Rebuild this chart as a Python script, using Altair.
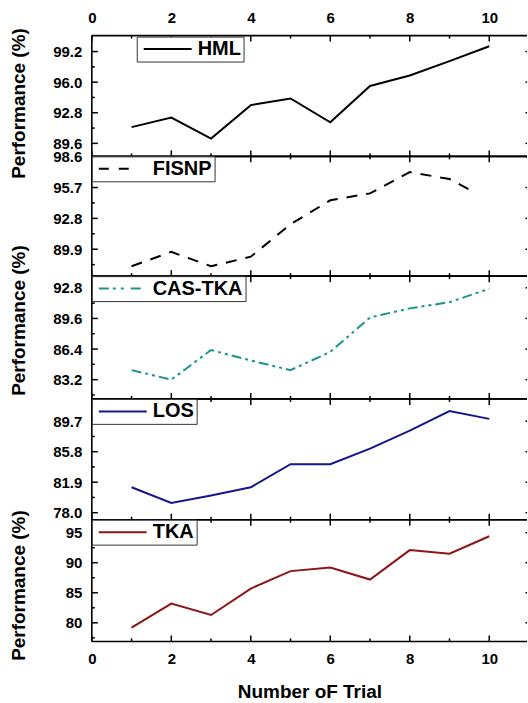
import altair as alt
import pandas as pd

# ---------------- data ----------------
trials = [1, 2, 3, 4, 5, 6, 7, 8, 9, 10]
fisnp_trials = [1, 2, 3, 4, 5, 6, 7, 8, 9, 9.6]

hml = [91.3, 92.3, 90.1, 93.6, 94.3, 91.8, 95.6, 96.7, 98.2, 99.75]
fisnp = [88.3, 89.65, 88.3, 89.2, 92.25, 94.5, 95.15, 97.15, 96.5, 95.3]
cas_tka = [84.2, 83.2, 86.3, 85.2, 84.2, 86.1, 89.7, 90.65, 91.3, 92.7]
los = [81.25, 79.25, 80.2, 81.25, 84.2, 84.2, 86.2, 88.5, 91.0, 90.0]
tka = [79.2, 83.2, 81.3, 85.7, 88.6, 89.2, 87.2, 92.1, 91.5, 94.4]

series_names = ["HML", "FISNP", "CAS-TKA", "LOS", "TKA"]

x_major = [0, 2, 4, 6, 8, 10]
x_minor = [1, 3, 5, 7, 9]

hml_ticks = [89.6, 92.8, 96.0, 99.2]
hml_minor = [91.2, 94.4, 97.6]
fisnp_ticks = [89.9, 92.8, 95.7, 98.6]
fisnp_minor = [88.45, 91.35, 94.25, 97.15]
cas_ticks = [83.2, 86.4, 89.6, 92.8]
cas_minor = [81.6, 84.8, 88.0, 91.2]
los_ticks = [78.0, 81.9, 85.8, 89.7]
los_minor = [79.95, 83.85, 87.75, 91.65]
tka_ticks = [80, 85, 90, 95]
tka_minor = [77.5, 82.5, 87.5, 92.5]

x_title = "Number oF Trial"
y_title = "Performance (%)"

# ---------------- styling / layout ----------------
FONT = "Liberation Sans"
W = 436
X_DOMAIN = [0, 10.95]

panel_specs = [
    dict(x=trials, y=hml, color="#000000", dash=None, legdash=None,
         domain=[88.24, 100.87], height=121, ticks=hml_ticks, minor=hml_minor,
         fmt=".1f", lx=45, ly=1, title_y=67.5, top=True, bottom=False),
    dict(x=fisnp_trials, y=fisnp, color="#000000", dash=[11, 9], legdash=[10, 10, 10, 40],
         domain=[87.37, 98.63], height=120, ticks=fisnp_ticks, minor=fisnp_minor,
         fmt=".1f", lx=0, ly=0, title_y=None, top=False, bottom=False),
    dict(x=trials, y=cas_tka, color="#1b928c", dash=[10, 4, 3, 4, 3, 4], legdash=[10, 4, 3, 5, 3, 7, 10, 20],
         domain=[81.19, 94.02], height=123, ticks=cas_ticks, minor=cas_minor,
         fmt=".1f", lx=0, ly=0, title_y=44, top=False, bottom=False),
    dict(x=trials, y=los, color="#15158e", dash=None, legdash=None,
         domain=[77.11, 92.55], height=121, ticks=los_ticks, minor=los_minor,
         fmt=".1f", lx=0, ly=0, title_y=None, top=False, bottom=False),
    dict(x=trials, y=tka, color="#8e1515", dash=None, legdash=None,
         domain=[76.9, 97.16], height=122, ticks=tka_ticks, minor=tka_minor,
         fmt="d", lx=0, ly=0, title_y=65.5, top=False, bottom=True),
]


def make_panel(name, s):
    H = s["height"]
    df = pd.DataFrame({"trial": s["x"], "perf": s["y"], "series": [name] * len(s["x"])})
    xscale = alt.Scale(domain=X_DOMAIN, nice=False, zero=False)
    yscale = alt.Scale(domain=s["domain"], nice=False, zero=False)

    lab = dict(labelFont=FONT, labelFontSize=15, labelFontWeight="bold", labelColor="black")
    tit = dict(titleFont=FONT, titleFontSize=19, titleFontWeight="bold", titleColor="black")

    if s["top"]:
        xaxis = alt.Axis(orient="top", values=x_major, format="d", ticks=False, tickSize=0,
                         domain=False, grid=False, labelPadding=10, labelFlush=False, title=None, **lab)
    elif s["bottom"]:
        xaxis = alt.Axis(orient="bottom", values=x_major, format="d", ticks=False, tickSize=0,
                         domain=False, grid=False, labelPadding=10, labelFlush=False,
                         title=x_title, titleY=56, titleBaseline="alphabetic", **lab, **tit)
    else:
        xaxis = None

    yaxis_kw = dict(values=s["ticks"], format=s["fmt"], ticks=False, tickSize=0, domain=False,
                    grid=False, labelPadding=10, labelFlush=False, labelOverlap=False, **lab)
    if s["title_y"] is not None:
        yaxis_kw.update(title=y_title, titleX=-67, titleY=s["title_y"], titleAngle=270,
                        titleAlign="center", titleBaseline="alphabetic", **tit)
    else:
        yaxis_kw.update(title=None)
    yaxis = alt.Axis(**yaxis_kw)

    legend_kw = dict(orient="none", legendX=s["lx"], legendY=s["ly"], title=None,
                     symbolType="M-4.8,0H4.8", symbolSize=100, symbolStrokeWidth=2,
                     symbolOffset=18.5, labelOffset=20, padding=2.5,
                     labelFont=FONT, labelFontSize=20, labelFontWeight="bold", labelColor="black",
                     strokeColor="#333333", fillColor="white")
    if s["legdash"]:
        legend_kw["symbolDash"] = s["legdash"]

    line_kw = dict(strokeWidth=2)
    if s["dash"]:
        line_kw["strokeDash"] = s["dash"]

    line = alt.Chart(df).mark_line(**line_kw).encode(
        x=alt.X("trial:Q", scale=xscale, axis=xaxis),
        y=alt.Y("perf:Q", scale=yscale, axis=yaxis),
        color=alt.Color("series:N", scale=alt.Scale(domain=[name], range=[s["color"]]),
                        legend=alt.Legend(**legend_kw)),
    )

    xmaj = pd.DataFrame({"t": x_major})
    xmin = pd.DataFrame({"t": x_minor})
    ymaj = pd.DataFrame({"v": s["ticks"]})
    ymin = pd.DataFrame({"v": s["minor"]})
    one = pd.DataFrame({"f": [0]})

    def xr(d, y0, y1):
        return alt.Chart(d).mark_rule(color="black", strokeWidth=1.5).encode(
            x=alt.X("t:Q", scale=xscale, axis=xaxis), y=alt.value(y0), y2=alt.value(y1))

    def yr(d, x0, x1):
        return alt.Chart(d).mark_rule(color="black", strokeWidth=1.5).encode(
            y=alt.Y("v:Q", scale=yscale, axis=yaxis), x=alt.value(x0), x2=alt.value(x1))

    layers = [
        xr(xmaj, 0, 6), xr(xmaj, H, H - 6), xr(xmin, 0, 3), xr(xmin, H, H - 3),
        yr(ymaj, 0, 6), yr(ymin, 0, 3), yr(ymaj, W - 1.5, W),
        alt.Chart(one).mark_rule(color="black", strokeWidth=1.6).encode(
            x=alt.value(0), y=alt.value(0), y2=alt.value(H)),
        alt.Chart(one).mark_rule(color="black", strokeWidth=1.6).encode(
            x=alt.value(0), x2=alt.value(W), y=alt.value(0)),
        alt.Chart(one).mark_rule(color="black", strokeWidth=1.6).encode(
            x=alt.value(0), x2=alt.value(W), y=alt.value(H)),
        line,
    ]
    return alt.layer(*layers).properties(width=W, height=H)


panels = [make_panel(n, s) for n, s in zip(series_names, panel_specs)]

chart = (
    alt.vconcat(*panels, spacing=0, bounds="flush")
    .resolve_scale(color="independent")
    .resolve_legend(color="independent")
    .properties(padding={"left": 9, "top": 10, "right": 0, "bottom": 0}, background="white")
    .configure_view(stroke=None)
    .configure_axis(labelFont=FONT, labelFontSize=15, labelFontWeight="bold", labelColor="black",
                    titleFont=FONT, titleFontSize=19, titleFontWeight="bold", titleColor="black")
)

chart.save("out.html", embed_options={"renderer": "svg", "actions": False})
